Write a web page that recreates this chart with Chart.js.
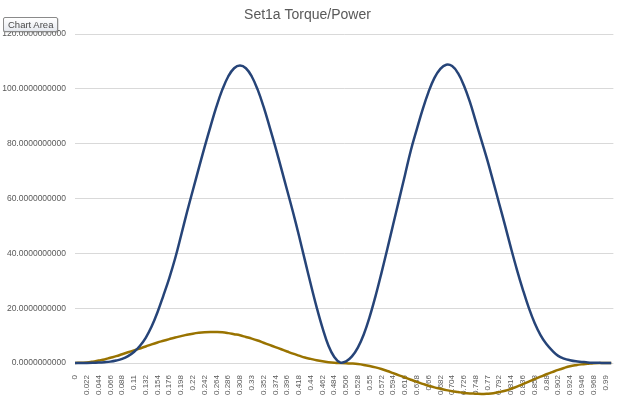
<!DOCTYPE html>
<html>
<head>
<meta charset="utf-8">
<title>Set1a Torque/Power</title>
<script src="https://cdn.jsdelivr.net/npm/chart.js@4.4.1/dist/chart.umd.min.js"></script>
<style>
    html, body { margin: 0; padding: 0; background: #fff; }
    #wrap { position: relative; width: 619px; height: 398px; }
    #hint {
        position: absolute; left: 3px; top: 17px;
        padding: 1px 4px; border: 1px solid #8a8a8a; border-radius: 2px;
        background: linear-gradient(#ffffff, #e6e9ef);
        font: 9.5px/11px "Liberation Sans", sans-serif; color: #4a4a4a;
        box-shadow: 1px 1px 1px rgba(0,0,0,0.15);
    }
</style>
</head>
<body>
<div id="wrap">
    <canvas id="chart" width="619" height="398"></canvas>
    <div id="hint">Chart Area</div>
</div>
<script>
const xValues = [0, 0.011, 0.022, 0.033, 0.044, 0.055, 0.066, 0.077, 0.088, 0.099,
    0.11, 0.121, 0.132, 0.143, 0.154, 0.165, 0.176, 0.187, 0.198, 0.209,
    0.22, 0.231, 0.242, 0.253, 0.264, 0.275, 0.286, 0.297, 0.308, 0.319,
    0.33, 0.341, 0.352, 0.363, 0.374, 0.385, 0.396, 0.407, 0.418, 0.429,
    0.44, 0.451, 0.462, 0.473, 0.484, 0.495, 0.506, 0.517, 0.528, 0.539,
    0.55, 0.561, 0.572, 0.583, 0.594, 0.605, 0.616, 0.627, 0.638, 0.649,
    0.66, 0.671, 0.682, 0.693, 0.704, 0.715, 0.726, 0.737, 0.748, 0.759,
    0.77, 0.781, 0.792, 0.803, 0.814, 0.825, 0.836, 0.847, 0.858, 0.869,
    0.88, 0.891, 0.902, 0.913, 0.924, 0.935, 0.946, 0.957, 0.968, 0.979,
    0.99, 1.001];

// blue series
const power = [0, 0, 0, 0.05, 0.15, 0.3, 0.5, 0.9, 1.5, 2.5,
    4.0, 6.2, 9.2, 13.3, 18.5, 24.6, 31.0, 38.2, 46.5, 55.0,
    63.0, 71.0, 78.8, 86.3, 93.5, 99.7, 104.5, 107.5, 108.5, 107.5,
    104.5, 99.7, 93.5, 86.3, 78.8, 71.0, 63.0, 55.0, 46.5, 37.6,
    28.8, 20.4, 12.8, 6.4, 2.2, 0.2, 0.6, 2.4, 5.6, 10.4,
    16.8, 24.4, 32.8, 41.6, 50.6, 59.6, 68.6, 77.6, 85.2, 92.5,
    98.9, 104.0, 107.3, 108.8, 108.3, 105.7, 101.2, 95.3, 88.2, 81.0,
    73.8, 66.0, 58.0, 50.0, 41.8, 34.0, 26.8, 20.2, 14.6, 10.2,
    6.9, 4.5, 2.6, 1.6, 1.0, 0.6, 0.4, 0.2, 0.1, 0.05,
    0, 0];

// gold series
const torque = [0, 0.1, 0.2, 0.5, 0.9, 1.3, 1.9, 2.5, 3.2, 3.9,
    4.6, 5.3, 6.0, 6.8, 7.5, 8.1, 8.7, 9.3, 9.8, 10.3,
    10.7, 11.0, 11.2, 11.3, 11.3, 11.2, 10.9, 10.5, 10.1, 9.5,
    8.9, 8.2, 7.4, 6.6, 5.8, 5.0, 4.2, 3.4, 2.7, 2.0,
    1.5, 1.0, 0.6, 0.3, 0.1, 0, -0.05, -0.2, -0.4, -0.7,
    -1.1, -1.6, -2.2, -2.9, -3.7, -4.5, -5.3, -6.1, -6.9, -7.6,
    -8.3, -8.9, -9.4, -9.9, -10.3, -10.6, -10.9, -11.1, -11.2, -11.3,
    -11.2, -11.0, -10.6, -10.1, -9.4, -8.6, -7.7, -6.8, -5.9, -5.0,
    -4.1, -3.3, -2.5, -1.8, -1.2, -0.8, -0.5, -0.3, -0.1, 0,
    0, 0];

const xTicks = [0, 0.022, 0.044, 0.066, 0.088, 0.11, 0.132, 0.154, 0.176, 0.198,
    0.22, 0.242, 0.264, 0.286, 0.308, 0.33, 0.352, 0.374, 0.396, 0.418,
    0.44, 0.462, 0.484, 0.506, 0.528, 0.55, 0.572, 0.594, 0.616, 0.638,
    0.66, 0.682, 0.704, 0.726, 0.748, 0.77, 0.792, 0.814, 0.836, 0.858,
    0.88, 0.902, 0.924, 0.946, 0.968, 0.99];

const yTicks = [0, 20, 40, 60, 80, 100, 120];

document.addEventListener("DOMContentLoaded", () => {
    const textColor = "#595959";
    const font = "'Liberation Sans', Arial, sans-serif";

    const toPoints = (ys) => ys.map((y, i) => ({ x: xValues[i], y: y }));

    new Chart(document.getElementById("chart"), {
        type: "line",
        data: {
            datasets: [
                {
                    label: "Power",
                    data: toPoints(power),
                    borderColor: "#264478",
                    borderWidth: 2.5,
                    pointRadius: 0,
                    tension: 0.4,
                    clip: false
                },
                {
                    label: "Torque",
                    data: toPoints(torque),
                    borderColor: "#997300",
                    borderWidth: 2.5,
                    pointRadius: 0,
                    tension: 0.4,
                    clip: false
                }
            ]
        },
        options: {
            responsive: false,
            animation: false,
            layout: { padding: { left: 0, right: 4, top: 0, bottom: 0 } },
            plugins: {
                legend: { display: false },
                tooltip: { enabled: false },
                title: {
                    display: true,
                    text: "Set1a Torque/Power",
                    color: textColor,
                    font: { family: font, size: 14, weight: "normal" },
                    padding: { top: 7, bottom: 10.2 }
                }
            },
            scales: {
                x: {
                    type: "linear",
                    min: 0,
                    max: 1.005,
                    afterBuildTicks: (axis) => {
                        axis.ticks = xTicks.map(v => ({ value: v }));
                    },
                    afterFit: (axis) => { axis.height = 35; },
                    grid: { display: false },
                    border: { display: false },
                    ticks: {
                        autoSkip: false,
                        minRotation: 90,
                        maxRotation: 90,
                        padding: 4,
                        color: textColor,
                        font: { family: font, size: 8 },
                        callback: (v) => String(v)
                    }
                },
                y: {
                    min: 0,
                    max: 120,
                    afterBuildTicks: (axis) => {
                        axis.ticks = yTicks.map(v => ({ value: v }));
                    },
                    afterFit: (axis) => { axis.width = 75; },
                    grid: { color: "#d9d9d9", lineWidth: 1, drawTicks: false },
                    border: { display: false },
                    ticks: {
                        padding: 9,
                        color: textColor,
                        font: { family: font, size: 8.5 },
                        callback: (v) => v.toFixed(10)
                    }
                }
            }
        }
    });
});
</script>
</body>
</html>
